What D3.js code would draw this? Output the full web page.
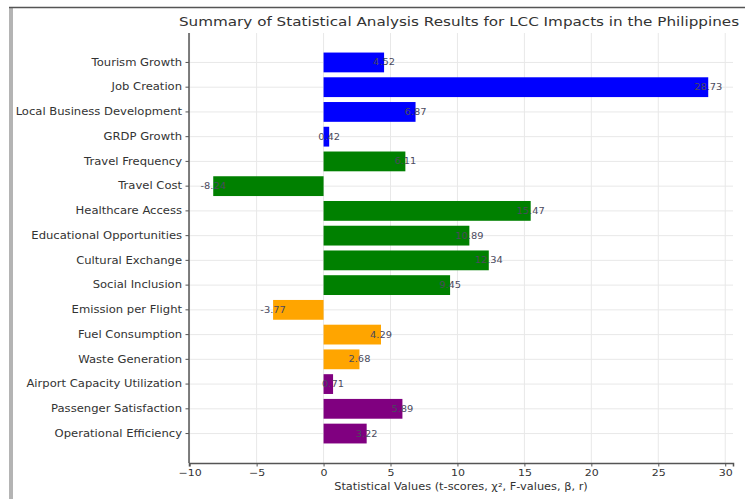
<!DOCTYPE html>
<html>
<head>
<meta charset="utf-8">
<script src="https://cdn.jsdelivr.net/npm/d3@7"></script>
<style>
  body { margin: 0; background: #fff; }
  svg { display: block; font-family: "DejaVu Sans", sans-serif; }
</style>
</head>
<body>
<div id="chart"></div>
<script>
// categories, top to bottom
const categories = [
  "Tourism Growth", "Job Creation", "Local Business Development", "GRDP Growth",
  "Travel Frequency", "Travel Cost", "Healthcare Access", "Educational Opportunities",
  "Cultural Exchange", "Social Inclusion", "Emission per Flight", "Fuel Consumption",
  "Waste Generation", "Airport Capacity Utilization", "Passenger Satisfaction",
  "Operational Efficiency"
];
const values = [4.52, 28.73, 6.87, 0.42, 6.11, -8.24, 15.47, 10.89, 12.34, 9.45,
  -3.77, 4.29, 2.68, 0.71, 5.89, 3.22];
const groups = ["economic", "economic", "economic", "economic",
  "social", "social", "social", "social", "social", "social",
  "environmental", "environmental", "environmental",
  "operational", "operational", "operational"];
const xTicks = [-10, -5, 0, 5, 10, 15, 20, 25, 30];

const title = "Summary of Statistical Analysis Results for LCC Impacts in the Philippines";
const xTitle = "Statistical Values (t-scores, \u03c7\u00b2, F-values, \u03b2, r)";

const W = 745, H = 499;
const plot = {left: 189, right: 733, top: 33, bottom: 463};
const stretch = "scale(1.16,1)";   // the screenshot is a little wider than tall

const color = d3.scaleOrdinal()
  .domain(["economic", "social", "environmental", "operational"])
  .range(["#0000ff", "#008000", "#ffa500", "#800080"]);

const svg = d3.select("#chart").append("svg")
  .attr("width", W).attr("height", H);

// screenshot frame
svg.append("rect").attr("x", 9).attr("y", 7).attr("width", 4).attr("height", H - 7)
  .attr("fill", "#b4b4b4");
svg.append("line").attr("x1", 9).attr("x2", W).attr("y1", 7.5).attr("y2", 7.5)
  .attr("stroke", "#555").attr("stroke-width", 1.5);

const x = d3.scaleLinear().domain([-10.05, 30.58]).range([plot.left, plot.right]);
const y = d3.scaleBand().domain(categories).range([plot.top, plot.bottom])
  .paddingInner(0.2).paddingOuter(0.79);

// grid
svg.append("g").selectAll("line").data(xTicks).join("line")
  .attr("x1", d => x(d)).attr("x2", d => x(d))
  .attr("y1", plot.top).attr("y2", plot.bottom)
  .attr("stroke", "#e8e8e8").attr("stroke-width", 1);
svg.append("g").selectAll("line").data(categories).join("line")
  .attr("x1", plot.left).attr("x2", plot.right)
  .attr("y1", d => y(d) + y.bandwidth() / 2).attr("y2", d => y(d) + y.bandwidth() / 2)
  .attr("stroke", "#e8e8e8").attr("stroke-width", 1);

// bars
svg.append("g").selectAll("rect").data(values).join("rect")
  .attr("x", d => x(Math.min(0, d)))
  .attr("width", d => Math.abs(x(d) - x(0)))
  .attr("y", (d, i) => y(categories[i]))
  .attr("height", y.bandwidth())
  .attr("fill", (d, i) => color(groups[i]));

// value labels centred on bar ends
svg.append("g").selectAll("text").data(values).join("text")
  .attr("transform", (d, i) =>
    `translate(${x(d)},${y(categories[i]) + y.bandwidth() / 2}) ${stretch}`)
  .attr("dy", "0.35em")
  .attr("text-anchor", "middle")
  .attr("font-size", 8.5)
  .attr("fill", "#4a4a5e")
  .text(d => d.toFixed(2));

// axes
const xAxis = d3.axisBottom(x).tickValues(xTicks).tickSize(3.5).tickPadding(3)
  .tickFormat(d => d < 0 ? "\u2212" + Math.abs(d) : d);
const gx = svg.append("g").attr("transform", `translate(0,${plot.bottom})`).call(xAxis);
gx.select(".domain").attr("stroke", "#555").attr("stroke-width", 1.5);
gx.selectAll(".tick line").attr("stroke", "#555");
gx.selectAll(".tick text").attr("font-size", 9.5).attr("fill", "#333")
  .attr("font-family", "DejaVu Sans, sans-serif").attr("transform", stretch);

const yAxis = d3.axisLeft(y).tickSize(3.5).tickPadding(2.5);
const gy = svg.append("g").attr("transform", `translate(${plot.left},0)`).call(yAxis);
gy.select(".domain").attr("stroke", "#555").attr("stroke-width", 1.5)
  .attr("d", `M0,${plot.top}V${plot.bottom}`);
gy.selectAll(".tick line").attr("stroke", "#555");
gy.selectAll(".tick text").attr("font-size", 10).attr("fill", "#333")
  .attr("font-family", "DejaVu Sans, sans-serif").attr("transform", stretch);

// titles
svg.append("text")
  .attr("transform", `translate(${(plot.left + plot.right) / 2 - 2},26) ${stretch}`)
  .attr("text-anchor", "middle").attr("font-size", 13.1).attr("fill", "#333")
  .text(title);
svg.append("text")
  .attr("transform", `translate(${(plot.left + plot.right) / 2},490) ${stretch}`)
  .attr("text-anchor", "middle").attr("font-size", 9.8).attr("fill", "#333")
  .text(xTitle);
</script>
</body>
</html>
